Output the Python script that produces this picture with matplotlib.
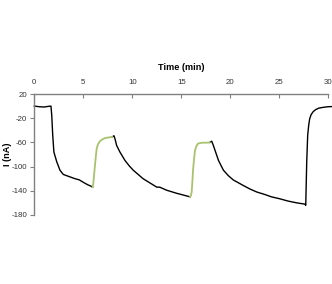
import matplotlib.pyplot as plt

# trace: time (min), current (nA)
black1_t = [0.0, 0.5, 1.0, 1.4, 1.7, 1.78, 1.88, 2.0, 2.29, 2.62, 2.96, 3.3, 3.64, 4.15, 4.6, 5.0, 5.45, 5.86, 5.95]
black1_i = [0, -1, -1.5, -0.5, 0, -15, -48, -76, -92, -106, -113, -115, -117, -120, -122, -126, -130, -133, -134]
green1_t = [5.95, 6.02, 6.1, 6.19, 6.28, 6.37, 6.5, 6.7, 6.95, 7.2, 7.5, 7.95]
green1_i = [-134, -128, -114, -98, -83, -70, -63, -58, -55, -53, -52, -51]
black2_t = [7.95, 8.13, 8.25, 8.4, 8.74, 9.26, 9.7, 10.1, 10.6, 11.1, 11.8, 12.5, 12.8, 13.5, 14.5, 15.2, 15.9]
black2_i = [-51, -49, -55, -65, -76, -90, -99, -106, -113, -120, -127, -134, -134, -139, -144, -147, -150]
green2_t = [15.9, 15.98, 16.06, 16.13, 16.2, 16.3, 16.4, 16.55, 16.7, 16.95, 17.2, 17.6, 17.9]
green2_i = [-150, -148, -142, -125, -106, -88, -73, -66, -62, -61, -60.5, -60.5, -60]
black3_t = [17.9, 18.1, 18.25, 18.44, 18.8, 19.3, 19.8, 20.3, 21.3, 22.0, 22.7, 23.5, 24.2, 25.0, 25.9, 26.8,
            27.6, 27.7, 27.8, 27.9, 28.0, 28.1, 28.25, 28.47, 28.7, 29.0, 29.5, 30.0, 30.35]
black3_i = [-60, -58, -64, -73, -90, -106, -115, -122, -131, -137, -142, -146, -150, -153, -157, -160,
            -162, -164, -92, -48, -32, -21, -14, -9, -6, -3.5, -2, -1, -0.8]

xticks = [0, 5, 10, 15, 20, 25, 30]
yticks = [20, -20, -60, -100, -140, -180]

plt.rcParams["font.family"] = ["Liberation Sans", "DejaVu Sans"]

fig = plt.figure(figsize=(3.32, 2.84), dpi=100)
ax = fig.add_axes([0.1033, 0.243, 0.8855, 0.426])

for t, i in [(black1_t, black1_i), (black2_t, black2_i), (black3_t, black3_i)]:
    ax.plot(t, i, color="black", linewidth=1.0, solid_joinstyle="round", clip_on=False)
for t, i in [(green1_t, green1_i), (green2_t, green2_i)]:
    ax.plot(t, i, color="#a9c26e", linewidth=1.3, solid_joinstyle="round")

ax.set_xlim(0, 30)
ax.set_ylim(-180, 20)
ax.set_xticks(xticks)
ax.set_yticks(yticks)
ax.set_yticklabels([str(v) for v in yticks])

ax.xaxis.tick_top()
ax.xaxis.set_label_position("top")
ax.spines["bottom"].set_visible(False)
ax.spines["right"].set_visible(False)
for s in ["top", "left"]:
    ax.spines[s].set_color("#808080")
    ax.spines[s].set_linewidth(1.0)

ax.tick_params(axis="x", direction="in", length=3, width=0.8, color="#808080",
               labelsize=5.7, labelcolor="#333333", pad=6)
ax.tick_params(axis="y", direction="out", length=3, width=0.8, color="#808080",
               labelsize=5.7, labelcolor="#333333", pad=2)

ax.set_xlabel("Time (min)", fontsize=6.6, fontweight="bold", labelpad=6)
ax.set_ylabel("I (nA)", fontsize=6.6, fontweight="bold")
ax.yaxis.set_label_coords(-0.075, 0.5)

fig.savefig("out.png", dpi=100)
